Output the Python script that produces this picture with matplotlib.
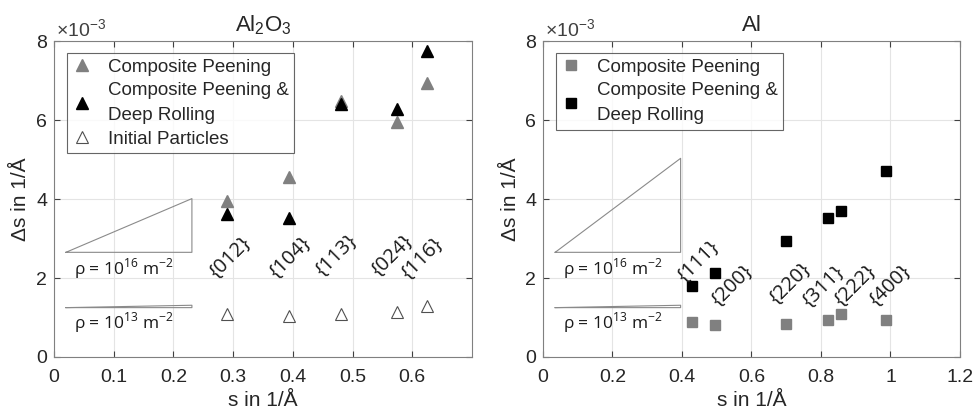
import matplotlib
matplotlib.use("Agg")
import matplotlib.pyplot as plt

# ---- Data (Δs values in units of 1e-3 1/Å) ----
al2o3_planes = ["{012}", "{104}", "{113}", "{024}", "{116}"]
al2o3_s = [0.289, 0.394, 0.480, 0.574, 0.625]
al2o3_cp = [3.95, 4.56, 6.49, 5.95, 6.94]
al2o3_cpdr = [3.61, 3.53, 6.41, 6.29, 7.75]
al2o3_init = [1.08, 1.04, 1.10, 1.14, 1.29]

al_planes = ["{111}", "{200}", "{220}", "{311}", "{222}", "{400}"]
al_s = [0.430, 0.496, 0.699, 0.819, 0.857, 0.988]
al_cp = [0.89, 0.81, 0.84, 0.94, 1.09, 0.94]
al_cpdr = [1.80, 2.12, 2.93, 3.53, 3.69, 4.70]

series_labels = ["Composite Peening", "Composite Peening &\nDeep Rolling", "Initial Particles"]

plt.rcParams['font.family'] = ['Liberation Sans', 'DejaVu Sans']

fig = plt.figure(figsize=(9.74, 4.13), dpi=100)
axL = fig.add_axes([0.0554, 0.1356, 0.4292, 0.7651])
axR = fig.add_axes([0.5575, 0.1356, 0.4281, 0.7651])

GRAY = '#808080'

def style(ax, xmax, xticks, xticklabels):
    ax.set_xlim(0, xmax)
    ax.set_ylim(0, 8)
    ax.set_xticks(xticks)
    ax.set_xticklabels(xticklabels)
    ax.set_yticks([0, 2, 4, 6, 8])
    ax.grid(True, color='#e4e4e4', linewidth=0.8)
    ax.set_axisbelow(True)
    for sp in ax.spines.values():
        sp.set_color('#808080')
        sp.set_linewidth(0.8)
    ax.tick_params(direction='in', top=True, right=True, length=4,
                   color='#404040', labelsize=14, labelcolor='#262626')
    ax.tick_params(axis='x', pad=9)
    ax.tick_params(axis='y', pad=5)
    ax.set_xlabel("s in 1/Å", fontsize=15, color='#262626', labelpad=3)
    ax.set_ylabel("Δs in 1/Å", fontsize=15, color='#262626', labelpad=4)
    ax.text(0.005, 1.0, "×10$^{\\mathregular{-3}}$", transform=ax.transAxes,
            fontsize=14, color='#404040', ha='left', va='bottom')

style(axL, 0.7, [0, 0.1, 0.2, 0.3, 0.4, 0.5, 0.6], ["0", "0.1", "0.2", "0.3", "0.4", "0.5", "0.6"])
style(axR, 1.2, [0, 0.2, 0.4, 0.6, 0.8, 1.0, 1.2], ["0", "0.2", "0.4", "0.6", "0.8", "1", "1.2"])

axL.set_title("Al$_\\mathregular{2}$O$_\\mathregular{3}$", fontsize=16, color='#262626', pad=7)
axR.set_title("Al", fontsize=16, color='#262626', pad=7)

# Left plot markers
axL.plot(al2o3_s, al2o3_cp, linestyle='none', marker='^', ms=9, mfc=GRAY, mec=GRAY, label=series_labels[0])
axL.plot(al2o3_s, al2o3_cpdr, linestyle='none', marker='^', ms=9, mfc='black', mec='black', label=series_labels[1])
axL.plot(al2o3_s, al2o3_init, linestyle='none', marker='^', ms=9, mfc='white', mec='#505050', mew=0.8, label=series_labels[2])

# Right plot markers
axR.plot(al_s, al_cp, linestyle='none', marker='s', ms=6.5, mfc=GRAY, mec=GRAY, label=series_labels[0])
axR.plot(al_s, al_cpdr, linestyle='none', marker='s', ms=6.5, mfc='black', mec='black', label=series_labels[1])

for ax in (axL, axR):
    leg = ax.legend(loc='upper left', bbox_to_anchor=(0.03, 0.962), fontsize=13.5,
                    frameon=True, fancybox=False, edgecolor='#404040',
                    handlelength=1.0, handletextpad=0.9, borderpad=0.3,
                    labelspacing=0.33, borderaxespad=0)
    leg.get_frame().set_linewidth(0.8)
    for t in leg.get_texts():
        t.set_color('#262626')
        t.set_linespacing(1.65)

# Plane annotations
lbl_font = ['Open Sans', 'DejaVu Sans']
al2o3_lbl_x = [0.295, 0.395, 0.473, 0.566, 0.616]
al2o3_lbl_y = [2.53, 2.53, 2.58, 2.58, 2.50]
for name, x, y in zip(al2o3_planes, al2o3_lbl_x, al2o3_lbl_y):
    axL.text(x, y, name, rotation=45, ha='center', va='center', fontsize=14.5,
             family=lbl_font, color='#1a1a1a', rotation_mode='anchor')

al_lbl_x = [0.447, 0.543, 0.711, 0.807, 0.898, 0.999]
al_lbl_y = [2.41, 1.82, 1.87, 1.78, 1.82, 1.82]
for name, x, y in zip(al_planes, al_lbl_x, al_lbl_y):
    axR.text(x, y, name, rotation=45, ha='center', va='center', fontsize=14.5,
             family=lbl_font, color='#1a1a1a', rotation_mode='anchor')

# Dislocation-density reference triangles
def ref_tri(ax, x0, x1, y0, y1, lbl_x):
    ax.plot([x0, x1, x1, x0], [y0, y1, y0, y0], color='#8a8a8a', linewidth=0.8)
    ax.plot([x0, x1, x1, x0], [1.25, 1.31, 1.25, 1.25], color='#8a8a8a', linewidth=0.8)
    ax.text(lbl_x, 2.23, "ρ = 10$^{\\mathregular{16}}$ m$^{\\mathregular{-2}}$", fontsize=12.5,
            family=lbl_font, ha='left', va='center', color='#1a1a1a')
    ax.text(lbl_x, 0.86, "ρ = 10$^{\\mathregular{13}}$ m$^{\\mathregular{-2}}$", fontsize=12.5,
            family=lbl_font, ha='left', va='center', color='#1a1a1a')

ref_tri(axL, 0.02, 0.231, 2.65, 4.01, 0.033)
ref_tri(axR, 0.035, 0.396, 2.65, 5.03, 0.057)

fig.savefig("out.png", dpi=100)
